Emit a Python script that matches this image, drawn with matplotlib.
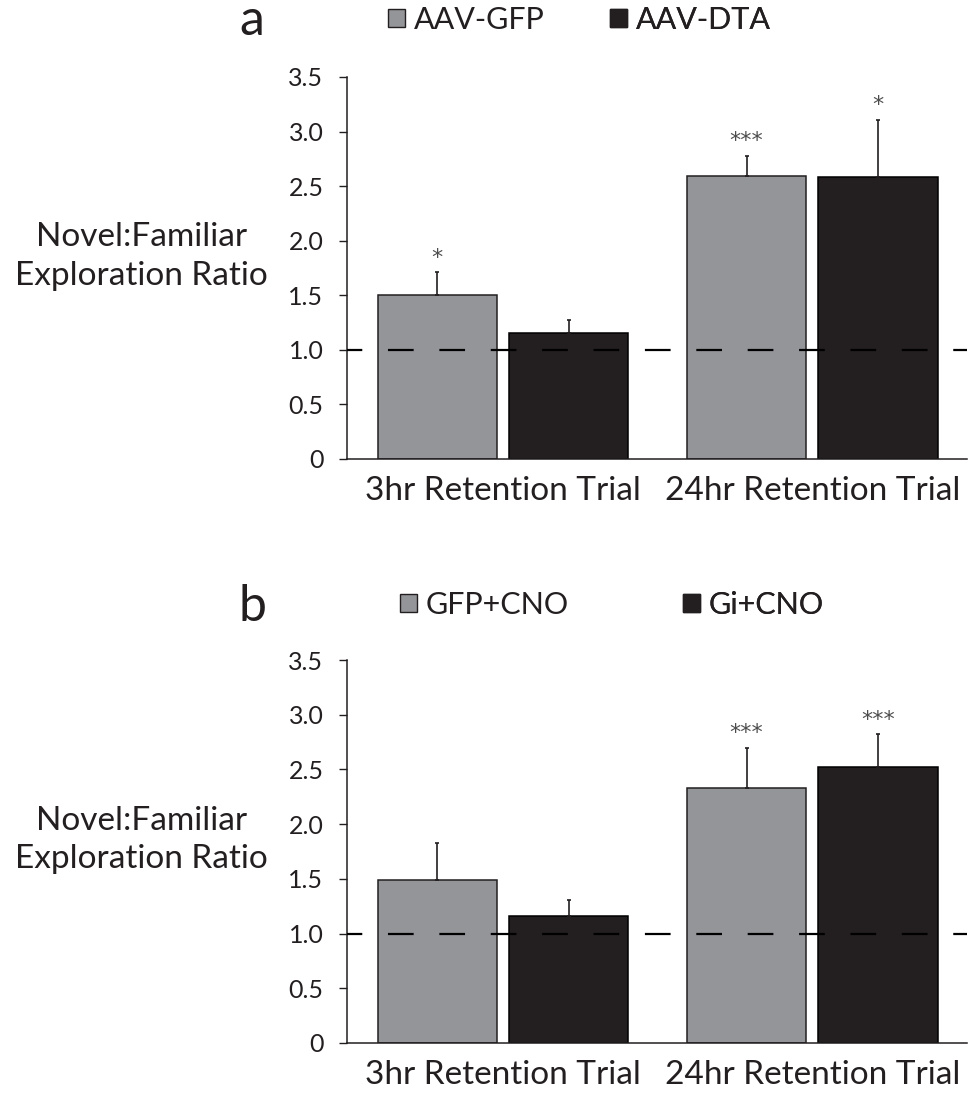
import matplotlib
matplotlib.use("Agg")
import matplotlib.pyplot as plt
from matplotlib.patches import Patch
import numpy as np

plt.rcParams['font.family'] = ['Lato', 'DejaVu Sans']
plt.rcParams['lines.scale_dashes'] = False

# data
trials = ["3hr Retention Trial", "24hr Retention Trial"]

groups_a = ["AAV-GFP", "AAV-DTA"]
means_a = [[1.50, 2.59], [1.15, 2.58]]
sems_a = [[0.21, 0.19], [0.12, 0.53]]
stars_a = [["*", "***"], ["", "*"]]

groups_b = ["GFP+CNO", "Gi+CNO"]
means_b = [[1.49, 2.33], [1.16, 2.52]]
sems_b = [[0.34, 0.37], [0.15, 0.30]]
stars_b = [["", "***"], ["", "***"]]

yticks = [0, 0.5, 1.0, 1.5, 2.0, 2.5, 3.0, 3.5]
ytick_labels = ["0", "0.5", "1.0", "1.5", "2.0", "2.5", "3.0", "3.5"]

gray = "#939598"
dark = "#231f20"
colors = [gray, dark]

W, H = 973, 1097
fig = plt.figure(figsize=(W / 100, H / 100), dpi=100)


def draw_panel(ax, groups, means, sems, stars, letter, leg_x, leg_y):
    x = np.arange(len(trials))
    width = 0.385
    offsets = [-0.2125, 0.2125]
    for i, g in enumerate(groups):
        ax.bar(x + offsets[i], means[i], width, color=colors[i],
               edgecolor=dark if i == 0 else "black", linewidth=1.1, zorder=2)
        ax.errorbar(x + offsets[i], means[i], yerr=[np.zeros(len(x)), sems[i]],
                    fmt="none", ecolor=dark, elinewidth=1.2, capsize=1.5,
                    capthick=1.2, zorder=3)
        for j in range(len(x)):
            if stars[i][j]:
                ax.annotate(stars[i][j], (x[j] + offsets[i], means[i][j] + sems[i][j]),
                            xytext=(0, 3), textcoords="offset points",
                            ha="center", va="bottom", fontsize=16,
                            family="DejaVu Sans", color="#4d4d4d")

    # chance level
    ax.axhline(1.0, color="black", linewidth=1.6, linestyle=(7.5, (18.5, 18.5)),
               dash_capstyle="butt", zorder=4)

    ax.set_xlim(-0.504, 1.5)
    ax.set_ylim(0, 3.5)
    ax.set_yticks(yticks)
    ax.set_yticklabels(ytick_labels, fontsize=18, color=dark)
    ax.set_xticks(x)
    ax.set_xticklabels(trials, fontsize=24, color=dark)
    ax.tick_params(axis="x", length=0, pad=12)
    ax.tick_params(axis="y", length=6, width=1.0, pad=11, color=dark)
    for s in ["top", "right"]:
        ax.spines[s].set_visible(False)
    for s in ["left", "bottom"]:
        ax.spines[s].set_linewidth(1.1)
        ax.spines[s].set_color(dark)

    ax.text(-0.332, 0.53, "Novel:Familiar\nExploration Ratio", transform=ax.transAxes,
            ha="center", va="center", fontsize=24, color=dark, linespacing=1.35)

    for i, g in enumerate(groups):
        leg = ax.legend(handles=[Patch(facecolor=colors[i], edgecolor=dark, linewidth=1.0)],
                        labels=[g], loc="center left", bbox_to_anchor=(leg_x[i], leg_y),
                        frameon=False, fontsize=22, handlelength=0.55, handleheight=0.55,
                        handletextpad=0.3, borderpad=0, borderaxespad=0)
        for t in leg.get_texts():
            t.set_color(dark)
        ax.add_artist(leg)

    bb = ax.get_position()
    fig.text(252 / W, bb.y1 + (42 if letter == "a" else 39) / H, letter,
             ha="center", va="baseline", fontsize=36, color=dark)


ax_a = fig.add_axes([347 / W, 1 - 459 / H, 620 / W, 382 / H])
draw_panel(ax_a, groups_a, means_a, sems_a, stars_a, "a", [0.066, 0.424], 1.149)

ax_b = fig.add_axes([347 / W, 1 - 1043 / H, 620 / W, 383 / H])
draw_panel(ax_b, groups_b, means_b, sems_b, stars_b, "b", [0.0855, 0.542], 1.1436)

fig.savefig("out.png", dpi=100)
